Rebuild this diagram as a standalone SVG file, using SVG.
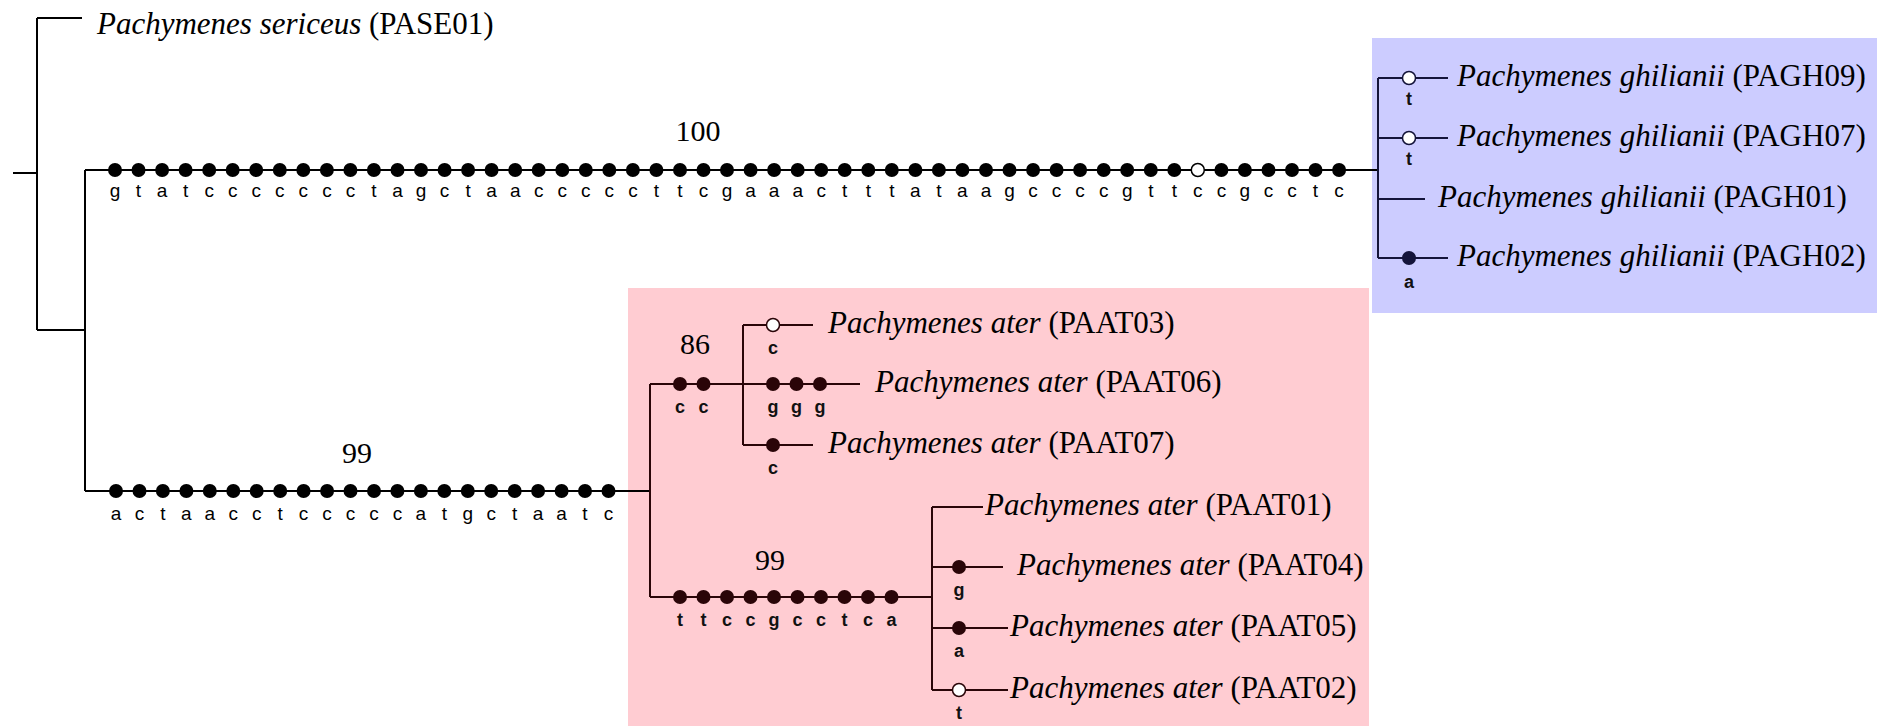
<svg xmlns="http://www.w3.org/2000/svg" xmlns:xlink="http://www.w3.org/1999/xlink" width="1886" height="726" viewBox="0 0 1886 726">
<style>
  .br{fill:none;stroke:#000;stroke-width:2}
  .brp{fill:none;stroke:#2a0508;stroke-width:2}
  .brb{fill:none;stroke:#14143a;stroke-width:2}
  .dk{fill:#000}
  .dp{fill:#2a0508}
  .db{fill:#14143a}
  .op{fill:#fff;stroke:#000;stroke-width:1.5}
  .opp{fill:#fff;stroke:#2a0508;stroke-width:1.5}
  .opb{fill:#fff;stroke:#14143a;stroke-width:1.5}
  .nt{font-family:"Liberation Sans",Arial,sans-serif;font-size:19px;text-anchor:middle;fill:#000}
  .ntb{font-family:"Liberation Sans",Arial,sans-serif;font-size:18px;font-weight:bold;text-anchor:middle;fill:#111}
  .sp{font-family:"Liberation Serif","Times New Roman",serif;font-size:31px;fill:#000}
  .bs{font-family:"Liberation Serif","Times New Roman",serif;font-size:30px;text-anchor:middle;fill:#000}
  .it{font-style:italic}
</style>
<defs>
  <circle id="d" r="7"/>
</defs>
<rect x="1372" y="38" width="505" height="275" fill="#ccccff"/>
<rect x="628" y="288" width="741" height="438" fill="#ffccd2"/>
<g id="connectors">
  <path class="br" d="M13,173H37M37,18V330M37,18H82M37,330H85M85,170V491M85,170H1378M85,491H650"/>
  <path class="brb" d="M1378,78V258M1378,78H1448M1378,138H1448M1378,199H1425M1378,258H1448"/>
  <path class="brp" d="M650,384V597M650,384H743M743,325V445M743,325H813M743,384H860M743,445H813M650,597H932M932,507V690M932,507H983M932,567H1003M932,628H1008M932,690H1008"/>
</g>
<g id="branch-ghilianii-stem">
  <g class="dk">
    <use xlink:href="#d" x="115.0" y="170"/><use xlink:href="#d" x="138.5" y="170"/><use xlink:href="#d" x="162.1" y="170"/><use xlink:href="#d" x="185.6" y="170"/><use xlink:href="#d" x="209.2" y="170"/><use xlink:href="#d" x="232.7" y="170"/><use xlink:href="#d" x="256.2" y="170"/><use xlink:href="#d" x="279.8" y="170"/><use xlink:href="#d" x="303.3" y="170"/><use xlink:href="#d" x="326.9" y="170"/><use xlink:href="#d" x="350.4" y="170"/><use xlink:href="#d" x="373.9" y="170"/><use xlink:href="#d" x="397.5" y="170"/><use xlink:href="#d" x="421.0" y="170"/><use xlink:href="#d" x="444.6" y="170"/><use xlink:href="#d" x="468.1" y="170"/><use xlink:href="#d" x="491.6" y="170"/><use xlink:href="#d" x="515.2" y="170"/><use xlink:href="#d" x="538.7" y="170"/><use xlink:href="#d" x="562.3" y="170"/><use xlink:href="#d" x="585.8" y="170"/><use xlink:href="#d" x="609.3" y="170"/><use xlink:href="#d" x="632.9" y="170"/><use xlink:href="#d" x="656.4" y="170"/><use xlink:href="#d" x="680.0" y="170"/><use xlink:href="#d" x="703.5" y="170"/><use xlink:href="#d" x="727.0" y="170"/><use xlink:href="#d" x="750.6" y="170"/><use xlink:href="#d" x="774.1" y="170"/><use xlink:href="#d" x="797.7" y="170"/><use xlink:href="#d" x="821.2" y="170"/><use xlink:href="#d" x="844.7" y="170"/><use xlink:href="#d" x="868.3" y="170"/><use xlink:href="#d" x="891.8" y="170"/><use xlink:href="#d" x="915.4" y="170"/><use xlink:href="#d" x="938.9" y="170"/><use xlink:href="#d" x="962.4" y="170"/><use xlink:href="#d" x="986.0" y="170"/><use xlink:href="#d" x="1009.5" y="170"/><use xlink:href="#d" x="1033.1" y="170"/><use xlink:href="#d" x="1056.6" y="170"/><use xlink:href="#d" x="1080.1" y="170"/><use xlink:href="#d" x="1103.7" y="170"/><use xlink:href="#d" x="1127.2" y="170"/><use xlink:href="#d" x="1150.8" y="170"/><use xlink:href="#d" x="1174.3" y="170"/><use xlink:href="#d" x="1221.4" y="170"/><use xlink:href="#d" x="1244.9" y="170"/><use xlink:href="#d" x="1268.5" y="170"/><use xlink:href="#d" x="1292.0" y="170"/><use xlink:href="#d" x="1315.5" y="170"/><use xlink:href="#d" x="1339.1" y="170"/>
  </g>
  <circle class="op" cx="1197.8" cy="170" r="6.5"/>
  <text class="nt" y="197" x="115.0 126.8 138.5 150.3 162.1 173.9 185.6 197.4 209.2 220.9 232.7 244.5 256.2 268.0 279.8 291.6 303.3 315.1 326.9 338.6 350.4 362.2 373.9 385.7 397.5 409.3 421.0 432.8 444.6 456.3 468.1 479.9 491.6 503.4 515.2 527.0 538.7 550.5 562.3 574.0 585.8 597.6 609.3 621.1 632.9 644.7 656.4 668.2 680.0 691.7 703.5 715.3 727.0 738.8 750.6 762.4 774.1 785.9 797.7 809.4 821.2 833.0 844.7 856.5 868.3 880.1 891.8 903.6 915.4 927.1 938.9 950.7 962.4 974.2 986.0 997.8 1009.5 1021.3 1033.1 1044.8 1056.6 1068.4 1080.1 1091.9 1103.7 1115.5 1127.2 1139.0 1150.8 1162.5 1174.3 1186.1 1197.8 1209.6 1221.4 1233.2 1244.9 1256.7 1268.5 1280.2 1292.0 1303.8 1315.5 1327.3 1339.1">g t a t c c c c c c c t a g c t a a c c c c c t t c g a a a c t t t a t a a g c c c c g t t c c g c c t c</text>
  <text class="bs" x="698" y="141">100</text>
</g>
<g id="branch-ater-stem">
  <g class="dk">
    <use xlink:href="#d" x="116.0" y="491"/><use xlink:href="#d" x="139.5" y="491"/><use xlink:href="#d" x="162.9" y="491"/><use xlink:href="#d" x="186.4" y="491"/><use xlink:href="#d" x="209.8" y="491"/><use xlink:href="#d" x="233.3" y="491"/><use xlink:href="#d" x="256.7" y="491"/><use xlink:href="#d" x="280.2" y="491"/><use xlink:href="#d" x="303.6" y="491"/><use xlink:href="#d" x="327.1" y="491"/><use xlink:href="#d" x="350.5" y="491"/><use xlink:href="#d" x="374.0" y="491"/><use xlink:href="#d" x="397.4" y="491"/><use xlink:href="#d" x="420.9" y="491"/><use xlink:href="#d" x="444.3" y="491"/><use xlink:href="#d" x="467.8" y="491"/><use xlink:href="#d" x="491.2" y="491"/><use xlink:href="#d" x="514.7" y="491"/><use xlink:href="#d" x="538.1" y="491"/><use xlink:href="#d" x="561.6" y="491"/><use xlink:href="#d" x="585.0" y="491"/><use xlink:href="#d" x="608.5" y="491"/>
  </g>
  <text class="nt" y="520" x="116.0 127.7 139.5 151.2 162.9 174.6 186.4 198.1 209.8 221.5 233.3 245.0 256.7 268.4 280.2 291.9 303.6 315.3 327.1 338.8 350.5 362.2 374.0 385.7 397.4 409.1 420.9 432.6 444.3 456.0 467.8 479.5 491.2 502.9 514.7 526.4 538.1 549.8 561.6 573.3 585.0 596.7 608.5">a c t a a c c t c c c c c a t g c t a a t c</text>
  <text class="bs" x="357" y="463">99</text>
</g>
<g id="branch-ater-clade1">
  <g class="dp"><use xlink:href="#d" x="680" y="384"/><use xlink:href="#d" x="703.5" y="384"/></g>
  <text class="ntb" y="413" x="680 691.75 703.5">c c</text>
  <text class="bs" x="695" y="354">86</text>
</g>
<g id="branch-ater-clade2">
  <g class="dp"><use xlink:href="#d" x="680" y="597"/><use xlink:href="#d" x="703.5" y="597"/><use xlink:href="#d" x="727" y="597"/><use xlink:href="#d" x="750.5" y="597"/><use xlink:href="#d" x="774" y="597"/><use xlink:href="#d" x="797.5" y="597"/><use xlink:href="#d" x="821" y="597"/><use xlink:href="#d" x="844.5" y="597"/><use xlink:href="#d" x="868" y="597"/><use xlink:href="#d" x="891.5" y="597"/></g>
  <text class="ntb" y="626" x="680 691.75 703.5 715.25 727 738.75 750.5 762.25 774 785.75 797.5 809.25 821 832.75 844.5 856.25 868 879.75 891.5">t t c c g c c t c a</text>
  <text class="bs" x="770" y="570">99</text>
</g>
<g id="PASE01">
  <text class="sp" x="97" y="34"><tspan class="it">Pachymenes sericeus</tspan> (PASE01)</text>
</g>
<g id="PAGH09">
  <circle class="opb" cx="1409" cy="78" r="6.5"/>
  <text class="ntb" x="1409" y="105">t</text>
  <text class="sp" x="1457" y="86"><tspan class="it">Pachymenes ghilianii</tspan> (PAGH09)</text>
</g>
<g id="PAGH07">
  <circle class="opb" cx="1409" cy="138" r="6.5"/>
  <text class="ntb" x="1409" y="165">t</text>
  <text class="sp" x="1457" y="146"><tspan class="it">Pachymenes ghilianii</tspan> (PAGH07)</text>
</g>
<g id="PAGH01">
  <text class="sp" x="1438" y="207"><tspan class="it">Pachymenes ghilianii</tspan> (PAGH01)</text>
</g>
<g id="PAGH02">
  <use class="db" xlink:href="#d" x="1409" y="258"/>
  <text class="ntb" x="1409" y="288">a</text>
  <text class="sp" x="1457" y="266"><tspan class="it">Pachymenes ghilianii</tspan> (PAGH02)</text>
</g>
<g id="PAAT03">
  <circle class="opp" cx="773" cy="325" r="6.5"/>
  <text class="ntb" x="773" y="354">c</text>
  <text class="sp" x="828" y="333"><tspan class="it">Pachymenes ater</tspan> (PAAT03)</text>
</g>
<g id="PAAT06">
  <g class="dp"><use xlink:href="#d" x="773" y="384"/><use xlink:href="#d" x="796.5" y="384"/><use xlink:href="#d" x="820" y="384"/></g>
  <text class="ntb" y="413" x="773 784.75 796.5 808.25 820">g g g</text>
  <text class="sp" x="875" y="392"><tspan class="it">Pachymenes ater</tspan> (PAAT06)</text>
</g>
<g id="PAAT07">
  <use class="dp" xlink:href="#d" x="773" y="445"/>
  <text class="ntb" x="773" y="474">c</text>
  <text class="sp" x="828" y="453"><tspan class="it">Pachymenes ater</tspan> (PAAT07)</text>
</g>
<g id="PAAT01">
  <text class="sp" x="985" y="515"><tspan class="it">Pachymenes ater</tspan> (PAAT01)</text>
</g>
<g id="PAAT04">
  <use class="dp" xlink:href="#d" x="959" y="567"/>
  <text class="ntb" x="959" y="596">g</text>
  <text class="sp" x="1017" y="575"><tspan class="it">Pachymenes ater</tspan> (PAAT04)</text>
</g>
<g id="PAAT05">
  <use class="dp" xlink:href="#d" x="959" y="628"/>
  <text class="ntb" x="959" y="657">a</text>
  <text class="sp" x="1010" y="636"><tspan class="it">Pachymenes ater</tspan> (PAAT05)</text>
</g>
<g id="PAAT02">
  <circle class="opp" cx="959" cy="690" r="6.5"/>
  <text class="ntb" x="959" y="719">t</text>
  <text class="sp" x="1010" y="698"><tspan class="it">Pachymenes ater</tspan> (PAAT02)</text>
</g>
</svg>
